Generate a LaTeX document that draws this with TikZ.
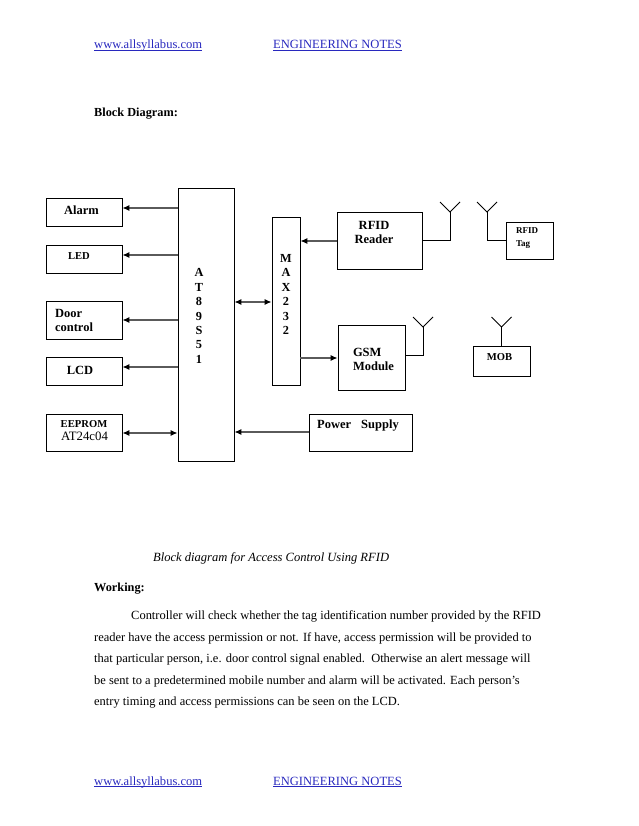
\documentclass[tikz,border=0pt]{standalone}
\usepackage{fontspec}
\setmainfont{Liberation Serif}
\definecolor{linkblue}{RGB}{40,40,190}
\definecolor{sigcol}{RGB}{90,90,90}
\tikzset{
    blockbox/.style = {draw, line width=0.8pt, inner sep=0pt},
    lab/.style = {inner sep=0pt, font=\fontsize{12.5}{14}\selectfont\bfseries},
    smalllab/.style = {inner sep=0pt, font=\fontsize{10.6}{13}\selectfont\bfseries},
    tinylab/.style = {inner sep=0pt, font=\fontsize{9}{13}\selectfont\bfseries},
    vertlab/.style = {inner sep=0pt, align=center, font=\fontsize{12.3}{14.4}\selectfont\bfseries},
    bodytext/.style = {inner sep=0pt, anchor=base west, font=\fontsize{12.47}{13}\selectfont},
    boldtext/.style = {bodytext, font=\fontsize{12.3}{13}\selectfont\bfseries},
    linktext/.style = {inner sep=0pt, anchor=base west, text=linkblue, font=\fontsize{12.55}{13}\selectfont},
    sigline/.style = {line width=1.2pt, draw=sigcol, -{Latex[length=7pt,width=6pt,black]}},
    sigboth/.style = {line width=1.2pt, draw=sigcol, {Latex[length=7pt,width=6pt,black]}-{Latex[length=7pt,width=6pt,black]}},
    aerial/.style = {line width=0.8pt}
}
\usetikzlibrary{arrows.meta}
\begin{document}
\begin{tikzpicture}[x=1pt, y=-1pt]
    \useasboundingbox (0,0) rectangle (638,826);
    % page header
    \node[linktext] (headsite) at (94,49) {\underline{\smash{www.allsyllabus.com}}};
    \node[linktext] (headnote) at (273,49) {\underline{\smash{ENGINEERING NOTES}}};
    \node[boldtext] (blocktitle) at (94,117) {Block Diagram:};

    % blocks
    \node[blockbox, minimum width=76, minimum height=28] (alarm) at (84,212) {};
    \node[blockbox, minimum width=76, minimum height=28] (led) at (84,259) {};
    \node[blockbox, minimum width=76, minimum height=38] (door) at (84,320) {};
    \node[blockbox, minimum width=76, minimum height=28] (lcd) at (84,371) {};
    \node[blockbox, minimum width=76, minimum height=37] (eeprom) at (84,432.5) {};
    \node[blockbox, minimum width=56, minimum height=273] (mcu) at (206,324.5) {};
    \node[blockbox, minimum width=28, minimum height=168] (max) at (286,301) {};
    \node[blockbox, minimum width=85, minimum height=57] (reader) at (379.5,240.5) {};
    \node[blockbox, minimum width=47, minimum height=37] (tag) at (529.5,240.5) {};
    \node[blockbox, minimum width=67, minimum height=65] (gsm) at (371.5,357.5) {};
    \node[blockbox, minimum width=57, minimum height=30] (mob) at (501.5,361) {};
    \node[blockbox, minimum width=103, minimum height=37] (power) at (360.5,432.5) {};

    % block texts
    \node[lab] (alarmtext) at (81.5,210) {Alarm};
    \node[smalllab] (ledtext) at (79,256) {LED};
    \node[lab, align=left] (doortext) at (74,320.5) {Door\\control};
    \node[lab] (lcdtext) at (80,370) {LCD};
    \node[smalllab] (eepromtext) at (84,424) {EEPROM};
    \node[inner sep=0pt, font=\fontsize{12.8}{13}\selectfont] (eepromtype) at (84.5,436.5) {AT24c04};
    \node[vertlab] (mcutext) at (199,316) {A\\T\\8\\9\\S\\5\\1};
    \node[vertlab] (maxtext) at (286,294.5) {M\\A\\X\\2\\3\\2};
    \node[lab, align=center] (readertext) at (374,232) {RFID\\Reader};
    \node[tinylab, align=left] (tagtext) at (527,238) {RFID\\Tag};
    \node[lab, align=left] (gsmtext) at (373.5,359) {GSM\\Module};
    \node[smalllab] (mobtext) at (499.5,357) {MOB};
    \node[lab] (powertext) at (358,426) {Power\hspace{0.8em}Supply};

    % signal lines
    \foreach \name/\y in {alarm/208, led/255, door/320, lcd/367}
        \draw[sigline] (mcu.west |- 0,\y) -- (\name.east |- 0,\y);
    \draw[sigboth] (eeprom.east |- 0,433) -- (mcu.west |- 0,433);
    \draw[sigboth] (mcu.east |- 0,302) -- (max.west |- 0,302);
    \draw[sigline] (reader.west |- 0,241) -- (max.east |- 0,241);
    \draw[sigline] (max.east |- 0,358) -- (gsm.west |- 0,358);
    \draw[sigline] (power.west |- 0,432) -- (mcu.east |- 0,432);

    % aerials
    \coordinate (readerfoot) at (450,212);
    \coordinate (tagfoot) at (487,212);
    \coordinate (gsmfoot) at (423,327);
    \coordinate (mobfoot) at (501.5,327);
    \foreach \foot in {readerfoot, tagfoot, gsmfoot, mobfoot}
        \draw[aerial] ([shift={(-10,-10)}]\foot) -- (\foot) -- ([shift={(10,-10)}]\foot);
    \draw[aerial] (reader.east |- 0,240) -| (readerfoot);
    \draw[aerial] (tag.west |- 0,240) -| (tagfoot);
    \draw[aerial] (gsm.east |- 0,355) -| (gsmfoot);
    \draw[aerial] (mob.north -| mobfoot) -- (mobfoot);

    % caption and text
    \node[bodytext, font=\fontsize{12.55}{13}\selectfont\itshape] (caption) at (153,561) {Block diagram for Access Control Using RFID};
    \node[boldtext] (working) at (94,591) {Working:};
    \node[bodytext] (lineone) at (131,619) {Controller will check whether the tag identification number provided by the RFID};
    \node[bodytext] (linetwo) at (94,641) {reader have the access permission or not. If have, access permission will be provided to};
    \node[bodytext] (linethree) at (94,662) {that particular person, i.e. door control signal enabled.\ \ Otherwise an alert message will};
    \node[bodytext] (linefour) at (94,684) {be sent to a predetermined mobile number and alarm will be activated. Each person’s};
    \node[bodytext] (linefive) at (94,705) {entry timing and access permissions can be seen on the LCD.};

    % page footer
    \node[linktext] (footsite) at (94,785) {\underline{\smash{www.allsyllabus.com}}};
    \node[linktext] (footnote) at (273,785) {\underline{\smash{ENGINEERING NOTES}}};
\end{tikzpicture}
\end{document}
